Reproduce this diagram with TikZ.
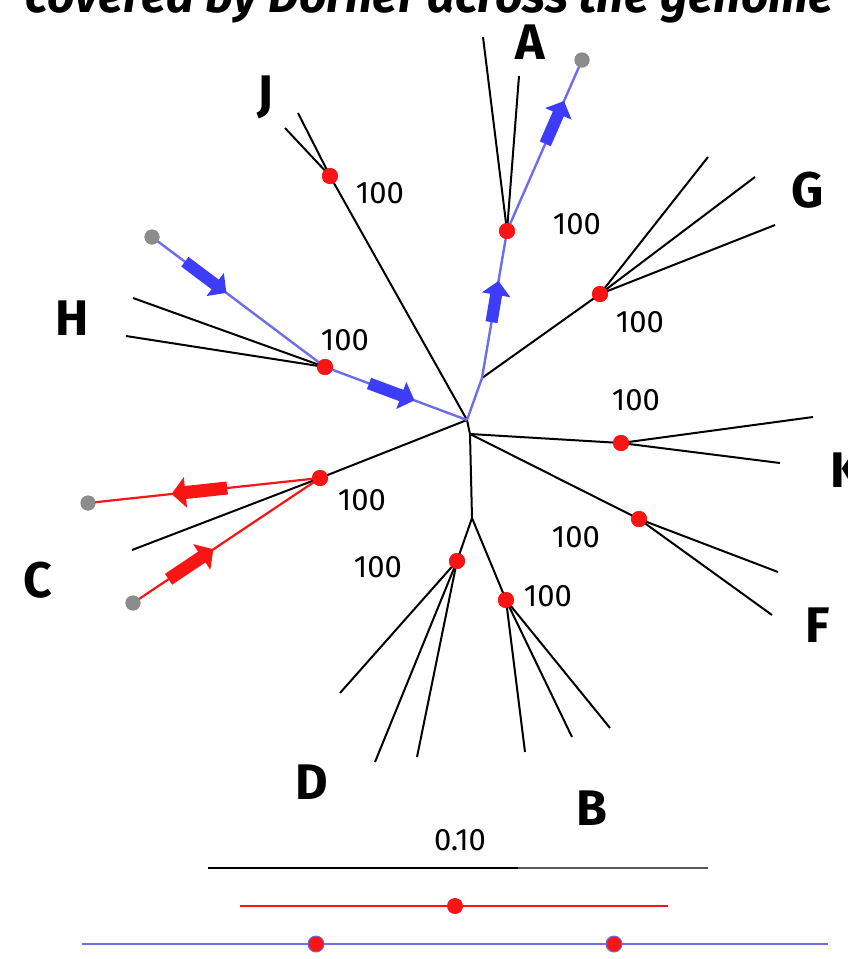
\documentclass[tikz,border=0pt]{standalone}
\usepackage{fontspec}
\setmainfont{Fira Sans}
\usetikzlibrary{calc,arrows.meta}
\definecolor{tred}{RGB}{250,20,20}
\definecolor{tblue}{RGB}{110,110,235}
\definecolor{ablue}{RGB}{60,60,250}
\definecolor{tgray}{RGB}{140,140,140}
\tikzset{
  br/.style={draw=black, line width=2pt},
  bl/.style={draw=tblue, line width=2.4pt},
  rd/.style={draw=tred, line width=2.2pt},
  rnode/.style={circle, fill=tred, inner sep=0pt, minimum size=16pt},
  gnode/.style={circle, fill=tgray, inner sep=0pt, minimum size=15pt},
  barr/.style={draw=ablue, line width=12pt, -{Triangle[length=14pt,width=28pt]}},
  rarr/.style={draw=tred, line width=13pt, -{Triangle[length=14pt,width=30pt]}},
  boot/.style={font=\fontsize{31}{34}\selectfont},
  clade/.style={font=\bfseries\fontsize{50}{54}\selectfont},
}
\begin{document}
\begin{tikzpicture}[x=1pt,y=-1pt]
\path[use as bounding box, fill=white] (0,0) rectangle (847,959);
\begin{scope}
\clip (0,0) rectangle (847,959);
% header text (cut off at the top)
\node[anchor=base, font=\bfseries\itshape\fontsize{48}{52}\selectfont] (hdr) at (430,12) {covered by Dorner across the genome};
\node[clade] (lK) at (846,470) {K};
\end{scope}

% coordinates
\coordinate (root) at (467,420);
\coordinate (r2) at (470,434);
\coordinate (agj) at (482,378);
\coordinate (dbj) at (472,518);
% internal nodes
\node[rnode] (nA) at (507,231) {};
\node[rnode] (nG) at (600,294) {};
\node[rnode] (nJ) at (330,176) {};
\node[rnode] (nH) at (325,367) {};
\node[rnode] (nC) at (320,478) {};
\node[rnode] (nK) at (621,443) {};
\node[rnode] (nF) at (639,519) {};
\node[rnode] (nD) at (457,561) {};
\node[rnode] (nB) at (506,600) {};
% gray tips
\node[gnode] (gA) at (582,60) {};
\node[gnode] (gH) at (152,237) {};
\node[gnode] (gC1) at (88,503) {};
\node[gnode] (gC2) at (133,603) {};
% leaf ends
\coordinate (a1) at (483,37);
\coordinate (a2) at (519,76);
\coordinate (g1) at (708,157);
\coordinate (g2) at (755,177);
\coordinate (g3) at (775,225);
\coordinate (j1) at (298,113);
\coordinate (j2) at (285,128);
\coordinate (h1) at (133,298);
\coordinate (h2) at (126,336);
\coordinate (c1) at (132,550);
\coordinate (k1) at (813,417);
\coordinate (k2) at (780,463);
\coordinate (f1) at (778,572);
\coordinate (f2) at (772,615);
\coordinate (d1) at (340,693);
\coordinate (d2) at (375,762);
\coordinate (d3) at (417,757);
\coordinate (b1) at (525,752);
\coordinate (b2) at (572,737);
\coordinate (b3) at (610,728);

% black branches
\draw[br] (root) -- (nJ.center);
\draw[br] (nJ.center) -- (j1);
\draw[br] (nJ.center) -- (j2);
\draw[br] (nA.center) -- (a1);
\draw[br] (nA.center) -- (a2);
\draw[br] (agj) -- (nG.center);
\draw[br] (nG.center) -- (g1);
\draw[br] (nG.center) -- (g2);
\draw[br] (nG.center) -- (g3);
\draw[br] (nH.center) -- (h1);
\draw[br] (nH.center) -- (h2);
\draw[br] (root) -- (nC.center);
\draw[br] (nC.center) -- (c1);
\draw[br] (root) -- (r2);
\draw[br] (r2) -- (nK.center);
\draw[br] (nK.center) -- (k1);
\draw[br] (nK.center) -- (k2);
\draw[br] (r2) -- (nF.center);
\draw[br] (nF.center) -- (f1);
\draw[br] (nF.center) -- (f2);
\draw[br] (r2) -- (dbj);
\draw[br] (dbj) -- (nD.center);
\draw[br] (dbj) -- (nB.center);
\draw[br] (nD.center) -- (d1);
\draw[br] (nD.center) -- (d2);
\draw[br] (nD.center) -- (d3);
\draw[br] (nB.center) -- (b1);
\draw[br] (nB.center) -- (b2);
\draw[br] (nB.center) -- (b3);

% blue paths
\draw[bl] (root) -- (agj);
\draw[bl] (agj) -- (nA.center);
\draw[bl] (nA.center) -- (gA.center);
\draw[bl] (gH.center) -- (nH.center);
\draw[bl] (nH.center) -- (root);
% red paths
\draw[rd] (nC.center) -- (gC1.center);
\draw[rd] (nC.center) -- (gC2.center);

% redraw dots on top
\foreach \n in {nA,nG,nJ,nH,nC,nK,nF,nD,nB}{\node[rnode] at (\n) {};}
\foreach \n in {gA,gH,gC1,gC2}{\node[gnode] at (\n) {};}

% arrows
\draw[barr] ($(agj)!0.38!(nA)$) -- ($(agj)!0.66!(nA)$);
\draw[barr] ($(nA)!0.51!(gA)$) -- ($(nA)!0.76!(gA)$);
\draw[barr] ($(gH)!0.19!(nH)$) -- ($(gH)!0.43!(nH)$);
\draw[barr] ($(nH)!0.31!(root)$) -- ($(nH)!0.63!(root)$);
\draw[rarr] ($(nC)!0.40!(gC1)$) -- ($(nC)!0.64!(gC1)$);
\draw[rarr] ($(gC2)!0.19!(nC)$) -- ($(gC2)!0.43!(nC)$);

% bootstrap labels
\node[boot] (tJ) at (380,193) {100};
\node[boot] (tA) at (577,224) {100};
\node[boot] (tG) at (640,322) {100};
\node[boot] (tH) at (345,340) {100};
\node[boot] (tK) at (636,400) {100};
\node[boot] (tC) at (362,500) {100};
\node[boot] (tF) at (576,537) {100};
\node[boot] (tD) at (378,567) {100};
\node[boot] (tB) at (548,596) {100};

% clade labels
\node[clade] (lA) at (530,42) {A};
\node[clade] (lJ) at (265,97) {J};
\node[clade] (lG) at (808,190) {G};
\node[clade] (lH) at (72,318) {H};
\node[clade] (lC) at (38,580) {C};
\node[clade] (lF) at (818,625) {F};
\node[clade] (lD) at (312,782) {D};
\node[clade] (lB) at (592,808) {B};

% scale bars
\node[boot] (s10) at (460,840) {0.10};
\coordinate (s1a) at (208,868);
\coordinate (s1m) at (518,868);
\coordinate (s1b) at (708,868);
\draw[line width=2.2pt, black] (s1a) -- (s1m);
\draw[line width=2.2pt, black!65] (s1m) -- (s1b);
\coordinate (s2a) at (240,906);
\coordinate (s2b) at (668,906);
\draw[line width=1.8pt, tred] (s2a) -- (s2b);
\node[rnode] (s2d) at (455,906) {};
\coordinate (s3a) at (82,944);
\coordinate (s3b) at (828,944);
\draw[line width=1.8pt, tblue] (s3a) -- (s3b);
\node[rnode, draw=tblue, line width=1pt] (s3d1) at (316,944) {};
\node[rnode, draw=tblue, line width=1pt] (s3d2) at (614,944) {};
\end{tikzpicture}
\end{document}
